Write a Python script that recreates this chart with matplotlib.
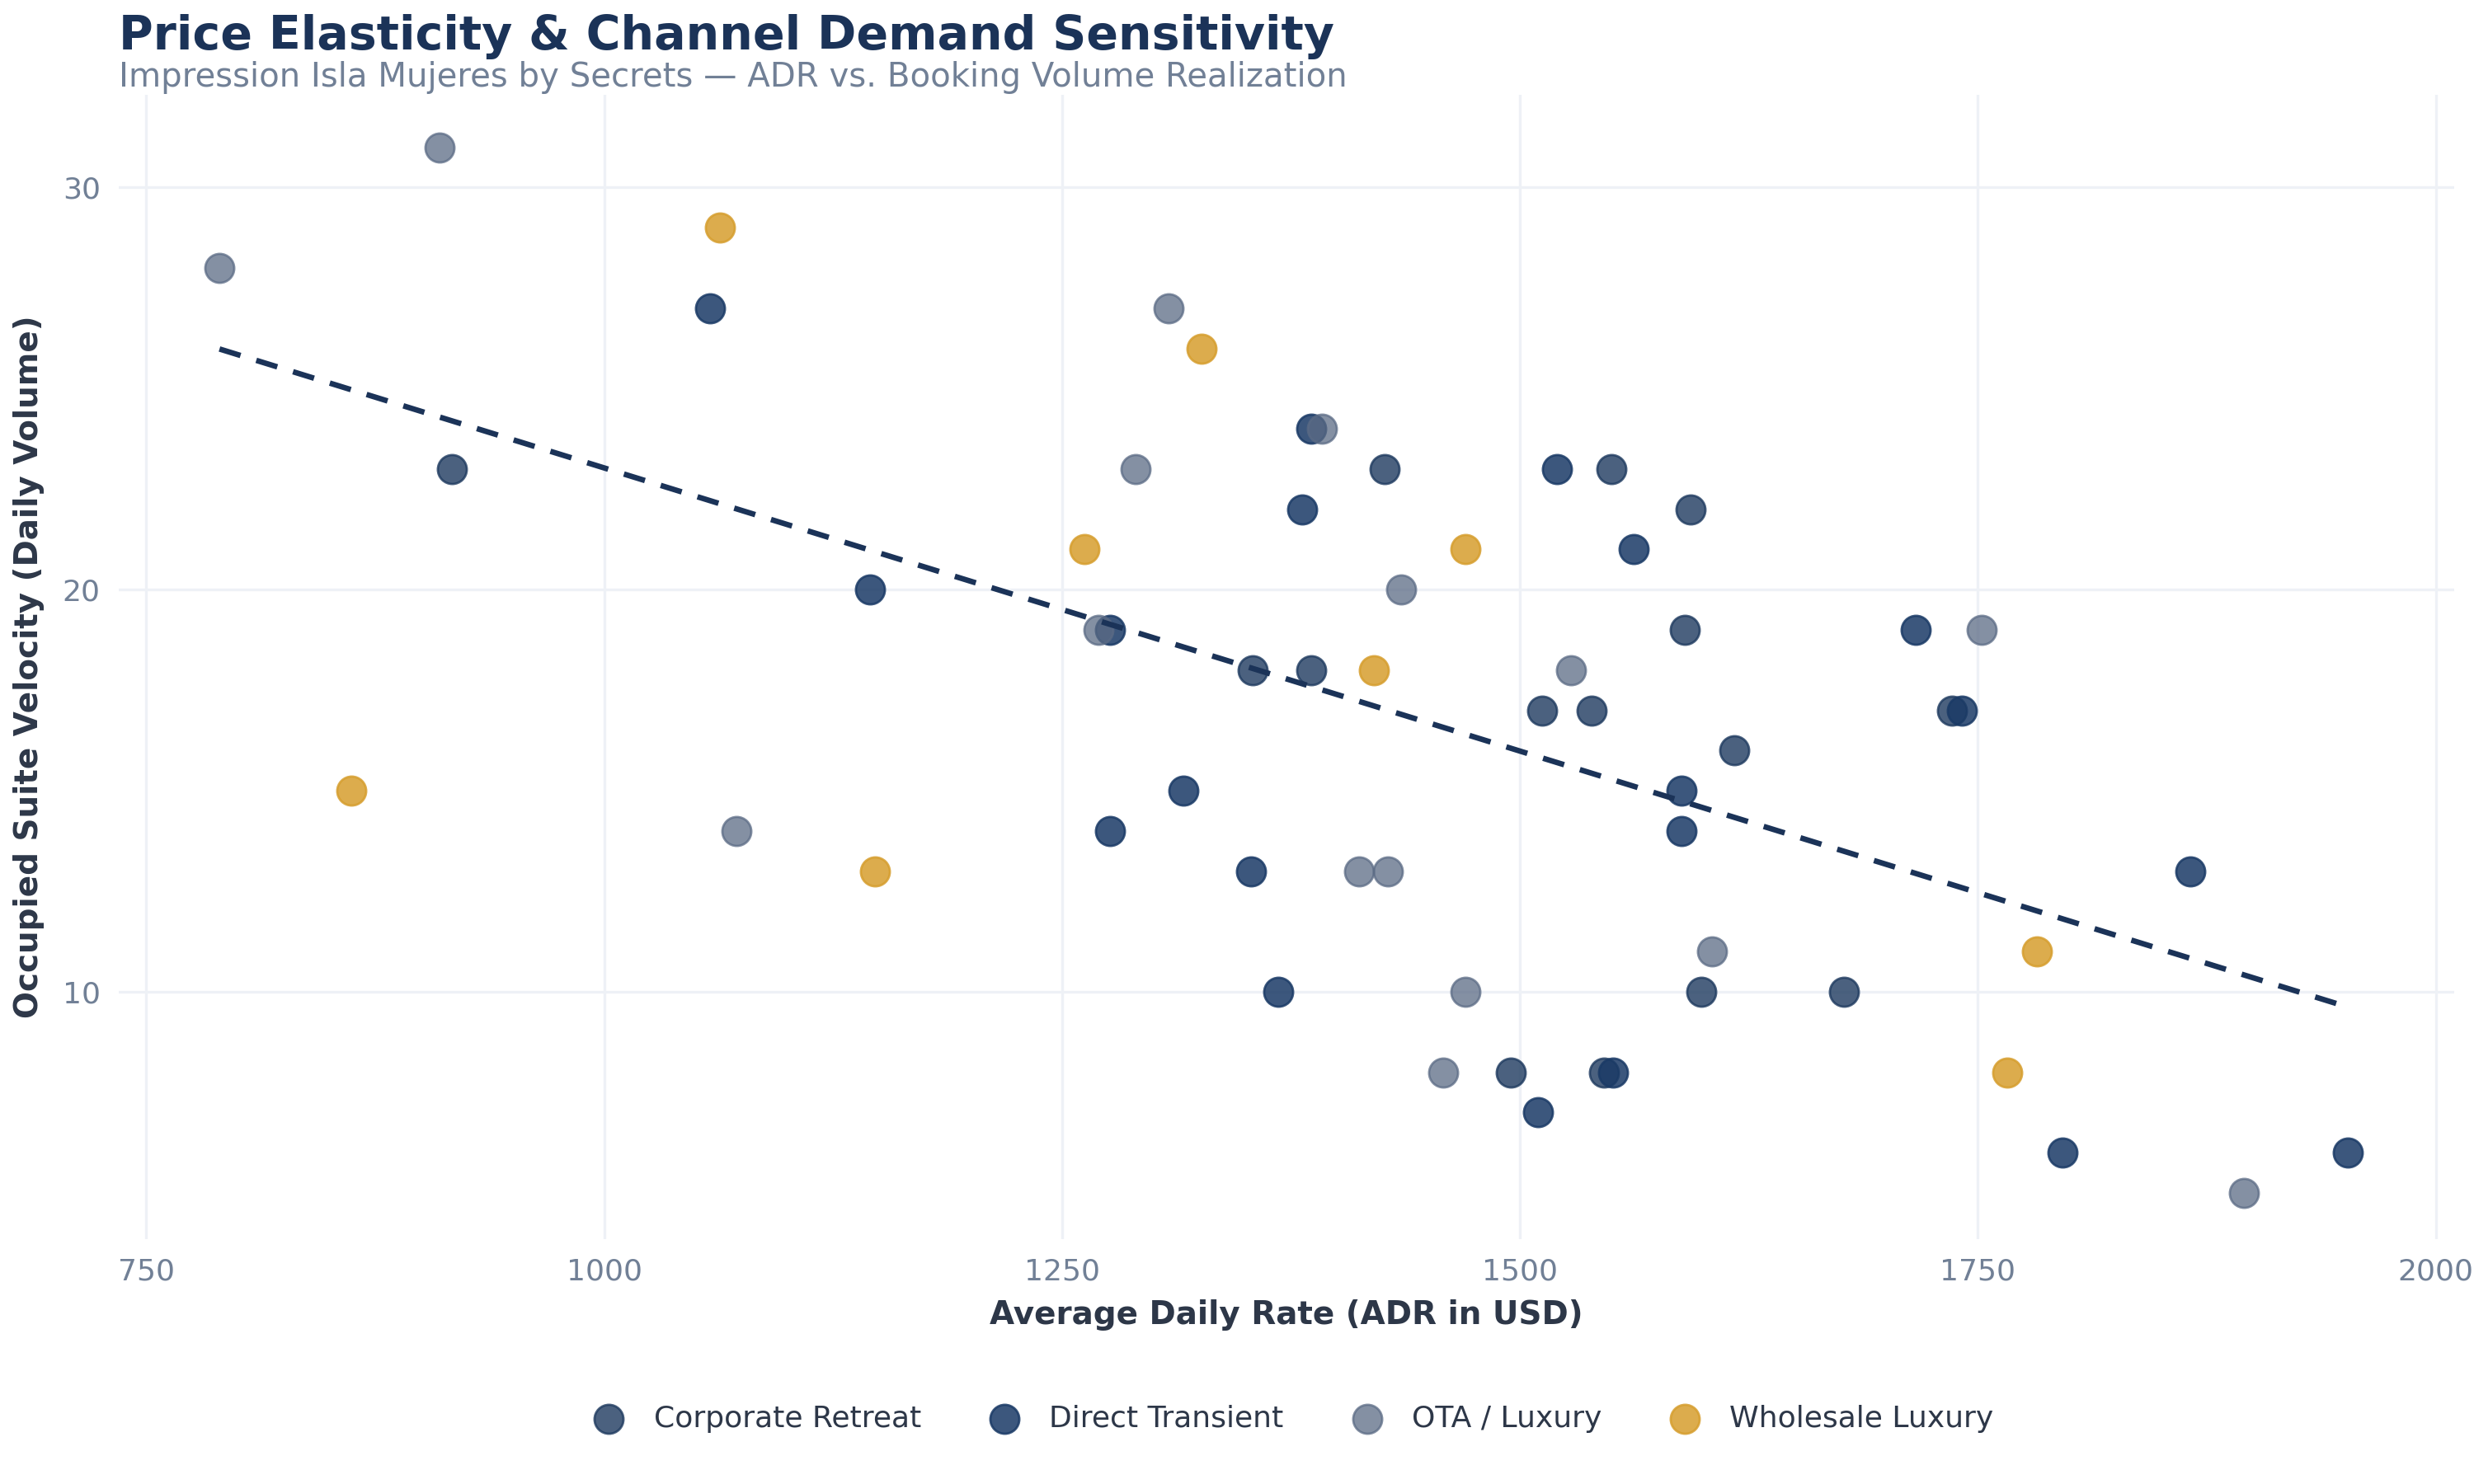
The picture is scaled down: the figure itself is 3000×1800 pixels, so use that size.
import numpy as np
import matplotlib.pyplot as plt

# OTA / Luxury
ota_adr = [790, 910, 1072, 1270, 1290, 1308, 1392, 1412, 1428, 1435, 1458, 1470, 1528, 1605, 1752, 1895]
ota_vol = [28, 31, 14, 19, 23, 27, 24, 13, 13, 20, 8, 10, 18, 11, 19, 5]
# Wholesale Luxury
whl_adr = [862, 1063, 1148, 1262, 1326, 1420, 1470, 1766, 1782]
whl_vol = [15, 29, 13, 21, 26, 18, 21, 8, 11]
# Corporate Retreat
corp_adr = [917, 1426, 1550, 1593, 1590, 1354, 1386, 1512, 1539, 1736, 1617, 1599, 1677, 1495, 1546]
corp_vol = [23, 23, 23, 22, 19, 18, 18, 17, 17, 17, 16, 10, 10, 8, 8]
# Direct Transient
dir_adr = [1058, 1145, 1276, 1276, 1316, 1353, 1368, 1381, 1386, 1520, 1562, 1588, 1588, 1716, 1741, 1510, 1551, 1796, 1866, 1952]
dir_vol = [27, 20, 19, 14, 15, 13, 10, 22, 24, 23, 21, 15, 14, 19, 17, 7, 8, 6, 13, 6]

fig = plt.figure(figsize=(15, 9), dpi=200)
ax = fig.add_axes([0.048, 0.165, 0.944, 0.771])

s = 160
ax.scatter(corp_adr, corp_vol, s=s, c="#1e3a5f", alpha=0.8, edgecolors="#1e3a5f", linewidths=1, label="Corporate Retreat", zorder=3)
ax.scatter(dir_adr, dir_vol, s=s, c="#1a3a66", alpha=0.85, edgecolors="#1a3a66", linewidths=1, label="Direct Transient", zorder=3)
ax.scatter(ota_adr, ota_vol, s=s, c="#5b6b85", alpha=0.75, edgecolors="#5b6b85", linewidths=1, label="OTA / Luxury", zorder=3)
ax.scatter(whl_adr, whl_vol, s=s, c="#d69e2e", alpha=0.85, edgecolors="#d69e2e", linewidths=1, label="Wholesale Luxury", zorder=3)

# linear trend over all points
all_x = np.array(ota_adr + whl_adr + corp_adr + dir_adr)
all_y = np.array(ota_vol + whl_vol + corp_vol + dir_vol)
m, b = np.polyfit(all_x, all_y, 1)
xs = np.array([all_x.min(), all_x.max()])
ax.plot(xs, m * xs + b, ls=(0, (4, 3)), color="#1b3358", lw=2.4, zorder=4)

ax.set_xlim(735, 2010)
ax.set_ylim(3.85, 32.3)
ax.set_xticks([750, 1000, 1250, 1500, 1750, 2000])
ax.set_yticks([10, 20, 30])
ax.grid(True, color="#eef1f6", lw=1.2)
ax.set_axisbelow(True)
for sp in ax.spines.values():
    sp.set_visible(False)
ax.tick_params(length=0, labelsize=13, labelcolor="#718096", pad=8)
ax.set_xlabel("Average Daily Rate (ADR in USD)", fontsize=14, fontweight="bold", color="#2d3748", labelpad=6)
ax.set_ylabel("Occupied Suite Velocity (Daily Volume)", fontsize=14, fontweight="bold", color="#2d3748", labelpad=8)

fig.text(0.048, 0.975, "Price Elasticity & Channel Demand Sensitivity", fontsize=20.5, fontweight="bold",
         color="#1b3358", va="center")
fig.text(0.048, 0.948, "Impression Isla Mujeres by Secrets \u2014 ADR vs. Booking Volume Realization", fontsize=14.5,
         color="#718096", va="center")

fig.legend(loc="center", bbox_to_anchor=(0.52, 0.044), ncol=4, frameon=False, fontsize=13,
           labelcolor="#2d3748", handletextpad=0.5, columnspacing=1.8, markerscale=1.0)

fig.savefig("out.png", dpi=200)
